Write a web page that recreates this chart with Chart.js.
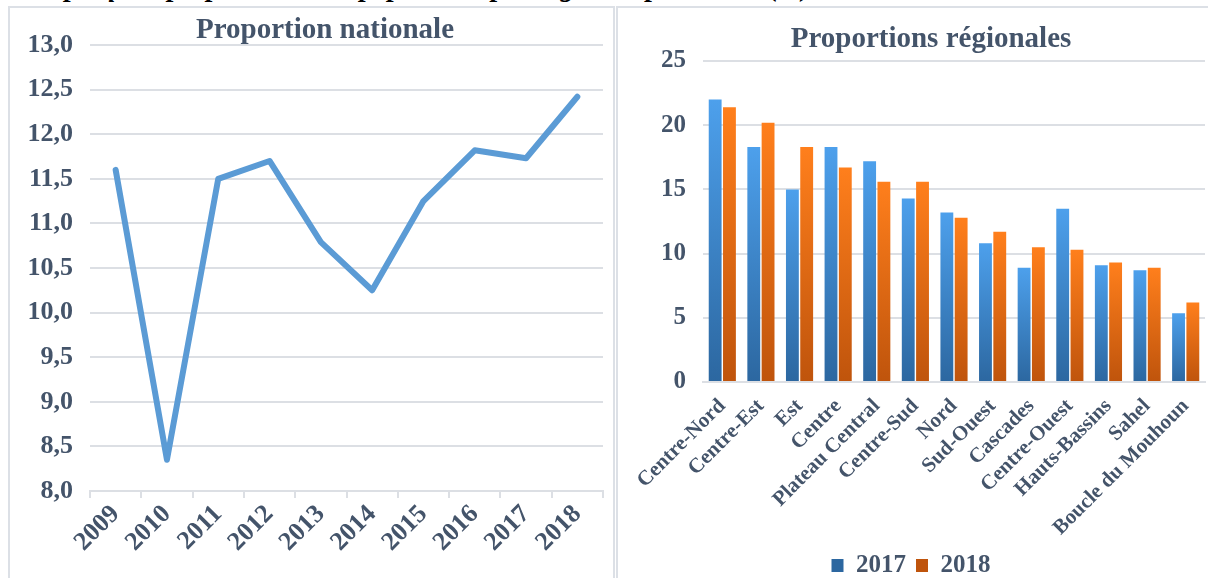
<!DOCTYPE html>
<html>
<head>
<meta charset="utf-8">
<script src="https://cdn.jsdelivr.net/npm/chart.js@4.4.1/dist/chart.umd.min.js"></script>
<style>
  body { margin: 0; width: 1208px; height: 578px; overflow: hidden; background: #fff; position: relative; }
  .panel { position: absolute; border: 2px solid #DCE0E6; box-sizing: border-box; }
  .cv { position: absolute; }
  .ttl { position: absolute; font-family: "Liberation Serif", serif; font-weight: bold; font-size: 29px; color: #44546A; white-space: nowrap; transform: translate(-50%, -50%); }
  #caption { position: absolute; left: 20px; top: -27px; font-family: "Liberation Serif", serif; font-weight: bold; font-style: italic; font-size: 28px; line-height: 28px; color: #000; white-space: nowrap; }
</style>
</head>
<body>
<div id="caption">Graphique : proportion de la population par région et par année (%)</div>
<div class="panel" style="left:8px; top:6px; width:607px; height:580px;"></div>
<div class="panel" style="left:616px; top:6px; width:600px; height:580px;"></div>
<div class="cv" style="left:8px; top:7px; width:605px; height:571px;"><canvas id="lineChart"></canvas></div>
<div class="cv" style="left:617px; top:7px; width:591px; height:581px;"><canvas id="barChart"></canvas></div>
<div class="ttl" style="left:325px; top:28px;">Proportion nationale</div>
<div class="ttl" style="left:931px; top:37px;">Proportions régionales</div>

<script>
// national series
const years = ['2009','2010','2011','2012','2013','2014','2015','2016','2017','2018'];
const national = [11.6, 8.35, 11.5, 11.7, 10.79, 10.25, 11.25, 11.82, 11.73, 12.42];

// regional series
const regions = ['Centre-Nord','Centre-Est','Est','Centre','Plateau Central','Centre-Sud','Nord',
                 'Sud-Ouest','Cascades','Centre-Ouest','Hauts-Bassins','Sahel','Boucle du Mouhoun'];
const reg2017 = [22.0, 18.3, 15.0, 18.3, 17.2, 14.3, 13.2, 10.8, 8.9, 13.5, 9.1, 8.7, 5.35];
const reg2018 = [21.4, 20.2, 18.3, 16.7, 15.6, 15.6, 12.8, 11.7, 10.5, 10.3, 9.3, 8.9, 6.2];

const textColor = '#44546A';
const gridColor = '#DCDFE4';
const serif = 'Liberation Serif';

function barFill(top, bottom) {
    return (ctx) => {
        const chart = ctx.chart;
        if (ctx.type !== 'data' || !chart.chartArea) return top;
        const y = chart.scales.y;
        const g = chart.ctx.createLinearGradient(0, y.getPixelForValue(ctx.raw), 0, y.getPixelForValue(0));
        g.addColorStop(0, top);
        g.addColorStop(1, bottom);
        return g;
    };
}

new Chart(document.getElementById('lineChart'), {
    type: 'line',
    data: {
        labels: years,
        datasets: [{
            data: national, borderColor: '#5B9BD5', borderWidth: 6, tension: 0,
            pointRadius: 0, borderJoinStyle: 'round', borderCapStyle: 'round', fill: false
        }]
    },
    options: {
        responsive: true, maintainAspectRatio: false, animation: false,
        layout: { padding: { top: 38, right: 10, left: 0, bottom: 0 } },
        plugins: { legend: { display: false }, tooltip: { enabled: false } },
        scales: {
            x: {
                offset: true,
                grid: { offset: true, drawOnChartArea: false, color: gridColor, lineWidth: 2, tickLength: 7 },
                border: { color: gridColor, width: 2 },
                ticks: { color: textColor, font: { family: serif, weight: 'bold', size: 26 }, minRotation: 45, maxRotation: 45, padding: 1 },
                afterFit: (s) => { s.height = 87; }
            },
            y: {
                min: 8, max: 13,
                grid: { color: gridColor, lineWidth: 2, drawTicks: false },
                border: { display: false },
                ticks: {
                    stepSize: 0.5, padding: 17, color: textColor,
                    font: { family: serif, weight: 'bold', size: 26 },
                    callback: (v) => v.toFixed(1).replace('.', ',')
                },
                afterFit: (s) => { s.width = 82; }
            }
        }
    }
});

new Chart(document.getElementById('barChart'), {
    type: 'bar',
    data: {
        labels: regions,
        datasets: [
            { label: '2017', data: reg2017, backgroundColor: barFill('#4DA0EC', '#2C67A0'), categoryPercentage: 0.74, barPercentage: 0.9 },
            { label: '2018', data: reg2018, backgroundColor: barFill('#FF7F1C', '#BF540C'), categoryPercentage: 0.74, barPercentage: 0.9 }
        ]
    },
    options: {
        responsive: true, maintainAspectRatio: false, animation: false,
        layout: { padding: { top: 54, right: 3, left: 0, bottom: 0 } },
        plugins: {
            tooltip: { enabled: false },
            legend: {
                position: 'bottom',
                labels: { color: textColor, font: { family: serif, weight: 'bold', size: 25 }, boxWidth: 12, boxHeight: 13, padding: 10 }
            }
        },
        scales: {
            x: {
                grid: { display: false },
                border: { color: gridColor, width: 2 },
                ticks: { color: textColor, font: { family: serif, weight: 'bold', size: 21 }, minRotation: 45, maxRotation: 45, padding: 4, autoSkip: false },
                afterFit: (s) => { s.height = 161; }
            },
            y: {
                min: 0, max: 25,
                grid: { color: gridColor, lineWidth: 2, drawTicks: false },
                border: { display: false },
                ticks: { stepSize: 5, padding: 17, color: textColor, font: { family: serif, weight: 'bold', size: 25 } },
                afterFit: (s) => { s.width = 86; }
            }
        }
    }
});
</script>
</body>
</html>
